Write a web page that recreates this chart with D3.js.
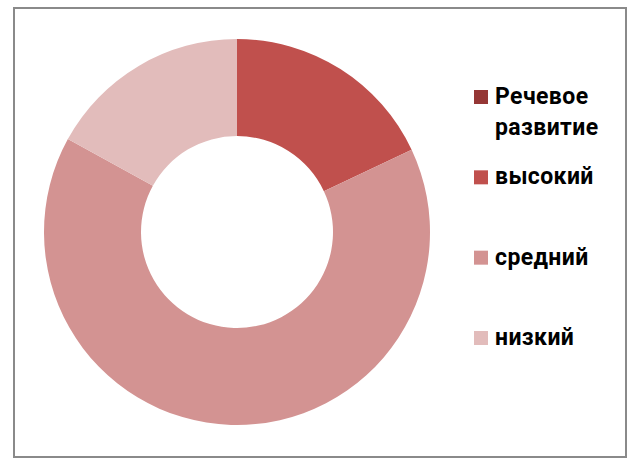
<!DOCTYPE html>
<html>
<head>
<meta charset="utf-8">
<script src="https://cdn.jsdelivr.net/npm/d3@7"></script>
<style>
  html, body { margin: 0; padding: 0; background: #fff; }
</style>
</head>
<body>
<div id="chart"></div>
<script>
// Data
const categories = ['Речевое развитие', 'высокий', 'средний', 'низкий'];
const values = [0, 18, 65, 17];
const colors = ['#953735', '#C0504D', '#D39392', '#E2BCBB'];

const w = 636;
const h = 459;
const center = { x: 237, y: 232 };
const outerR = 193;
const innerR = 96;

const svg = d3.select('#chart')
  .append('svg')
  .attr('width', w)
  .attr('height', h);

// Chart frame
svg.append('rect')
  .attr('x', 14)
  .attr('y', 8)
  .attr('width', 612)
  .attr('height', 449)
  .attr('fill', '#fff')
  .attr('stroke', '#8a8a8a')
  .attr('stroke-width', 2);

const color = d3.scaleOrdinal()
  .domain(categories)
  .range(colors);

const pie = d3.pie()
  .sort(null)
  .value(d => d.value);

const arc = d3.arc()
  .innerRadius(innerR)
  .outerRadius(outerR);

const data = categories.map((c, i) => ({ name: c, value: values[i] }));

// Donut slices
svg.append('g')
  .attr('transform', `translate(${center.x}, ${center.y})`)
  .selectAll('path')
  .data(pie(data))
  .join('path')
  .attr('fill', d => color(d.data.name))
  .attr('d', arc);

// Legend
const legendY = d3.scalePoint()
  .domain(categories)
  .range([104, 345]);

const legend = svg.append('g')
  .attr('font-family', 'Roboto, sans-serif')
  .attr('font-weight', 'bold')
  .attr('font-size', '23px')
  .attr('letter-spacing', '0.4px')
  .attr('fill', '#000');

const item = legend.selectAll('g')
  .data(categories)
  .join('g')
  .attr('transform', d => `translate(474, ${legendY(d)})`);

item.append('rect')
  .attr('x', 0)
  .attr('y', -14)
  .attr('width', 14)
  .attr('height', 14)
  .attr('fill', d => color(d));

item.append('text')
  .attr('x', 21)
  .attr('y', 0)
  .selectAll('tspan')
  .data(d => d.split(' '))
  .join('tspan')
  .attr('x', 21)
  .attr('dy', (d, i) => i === 0 ? 0 : 31)
  .text(d => d);
</script>
</body>
</html>
